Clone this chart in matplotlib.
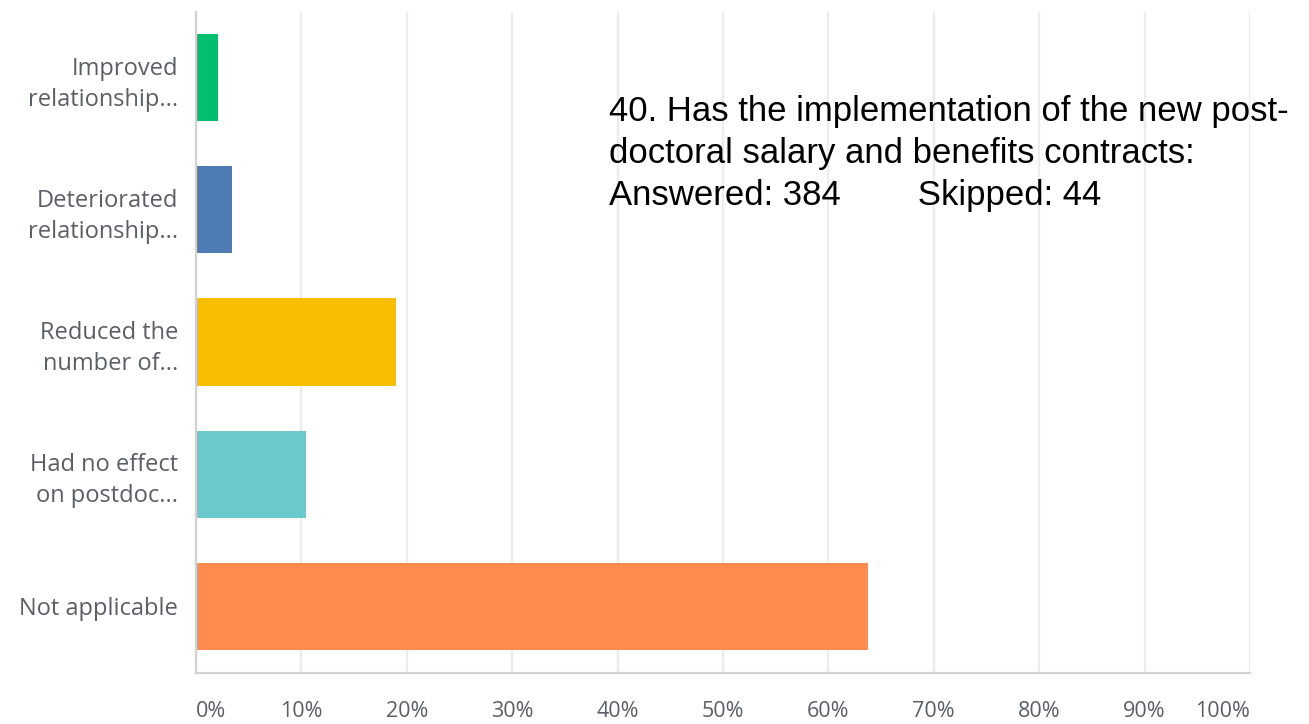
import matplotlib
matplotlib.use("Agg")
import matplotlib.pyplot as plt

categories = [
    "Improved\nrelationship...",
    "Deteriorated\nrelationship...",
    "Reduced the\nnumber of...",
    "Had no effect\non postdoc...",
    "Not applicable",
]
percent = [2.08, 3.39, 19.01, 10.42, 63.80]
colors = ["#00bf6f", "#507cb6", "#f9be00", "#6bc8cd", "#ff8b4f"]
xticks = [0, 10, 20, 30, 40, 50, 60, 70, 80, 90, 100]
xticklabels = ["0%", "10%", "20%", "30%", "40%", "50%", "60%", "70%", "80%", "90%", "100%"]
title_lines = [
    "40. Has the implementation of the new post-",
    "doctoral salary and benefits contracts:",
    "Answered: 384        Skipped: 44",
]

W, H = 1309, 724
fig = plt.figure(figsize=(W / 100, H / 100), dpi=100)
ax = fig.add_axes([196 / W, (H - 672.5) / H, (1250 - 196) / W, (672.5 - 11.5) / H])

y = list(range(len(categories)))
ax.barh(y, percent, height=87 / 132, color=colors, zorder=2)
ax.set_ylim(len(categories) - 0.5, -0.5)
ax.set_xlim(0, 100)

ax.set_xticks(xticks)
ax.set_xticklabels(xticklabels)
ax.set_yticks(y)
ax.set_yticklabels(categories)

label_font = "Open Sans"
label_color = "#5a5f66"
for lab in ax.get_yticklabels():
    lab.set_fontfamily(label_font)
    lab.set_fontsize(17)
    lab.set_color(label_color)
    lab.set_horizontalalignment("right")
    lab.set_multialignment("right")
    lab.set_linespacing(1.4)
xlabs = ax.get_xticklabels()
for lab in xlabs:
    lab.set_fontfamily(label_font)
    lab.set_fontsize(15.5)
    lab.set_color(label_color)
    lab.set_verticalalignment("center")
xlabs[0].set_horizontalalignment("left")
xlabs[-1].set_horizontalalignment("right")

ax.tick_params(axis="y", length=0, pad=13)
ax.tick_params(axis="x", length=0, pad=28)

ax.grid(axis="x", color="#ececec", linewidth=1.6, zorder=0)
ax.grid(axis="y", visible=False)
for side in ["top", "right"]:
    ax.spines[side].set_visible(False)
for side in ["left", "bottom"]:
    ax.spines[side].set_color("#d2d2d2")
    ax.spines[side].set_linewidth(1.6)
ax.set_axisbelow(True)

fig.text(609 / W, 1 - 95 / H, "\n".join(title_lines), ha="left", va="top",
         fontsize=25, family="Liberation Sans", color="#000000", linespacing=1.35)

fig.savefig("out.png", dpi=100, facecolor="white")
